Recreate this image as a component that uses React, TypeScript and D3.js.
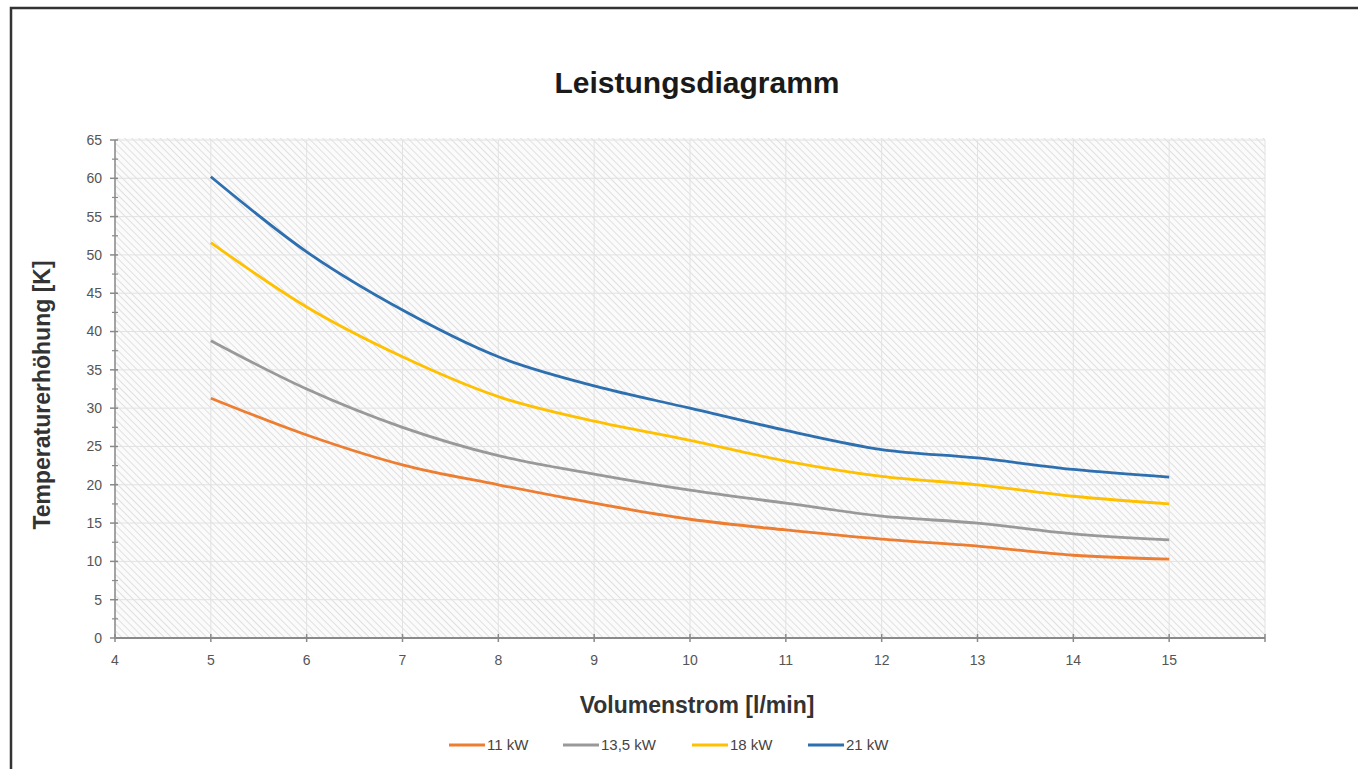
import * as d3 from "d3";

const xValues = [5, 6, 7, 8, 9, 10, 11, 12, 13, 14, 15];
const kw11 = [31.3, 26.5, 22.6, 20.0, 17.6, 15.5, 14.1, 12.9, 12.0, 10.8, 10.3];
const kw135 = [38.8, 32.5, 27.5, 23.8, 21.4, 19.3, 17.6, 15.9, 15.0, 13.6, 12.8];
const kw18 = [51.6, 43.2, 36.7, 31.5, 28.3, 25.8, 23.1, 21.1, 20.0, 18.5, 17.5];
const kw21 = [60.2, 50.4, 42.8, 36.7, 32.9, 30.0, 27.1, 24.6, 23.5, 22.0, 21.0];

const seriesNames = ["11 kW", "13,5 kW", "18 kW", "21 kW"];
const seriesColors = ["#ed7d31", "#999999", "#ffc000", "#2e6fb0"];
const seriesValues = [kw11, kw135, kw18, kw21];

const xTicks = d3.range(4, 17);
const yTicks = d3.range(0, 70, 5);
const yMinorTicks = d3.range(2.5, 65, 5);

const W = 1358;
const H = 769;
const M = { left: 115, right: 93, top: 140, bottom: 131 };

export default function App() {
  const x = d3.scaleLinear().domain([4, 16]).range([M.left, W - M.right]);
  const y = d3.scaleLinear().domain([0, 65]).range([H - M.bottom, M.top]);
  const line = d3
    .line<number>()
    .x((_, i) => x(xValues[i]))
    .y((d) => y(d))
    .curve(d3.curveMonotoneX);

  const axisColor = "#8a8a8a";
  const font = "'Liberation Sans', Arial, sans-serif";
  const legendX = [449, 563, 692, 808];

  return (
    <svg
      width={W}
      height={H}
      style={{ position: "absolute", left: 0, top: 0, background: "#fff" }}
      fontFamily={font}
    >
      <defs>
        <pattern id="hatch" width="5" height="5" patternUnits="userSpaceOnUse" patternTransform="rotate(-45)">
          <rect width="5" height="5" fill="#fbfbfb" />
          <line x1="0" y1="0" x2="0" y2="5" stroke="#d9d9d9" strokeWidth="1.6" />
        </pattern>
      </defs>
      <rect x={11} y={8} width={W + 20} height={H + 20} fill="none" stroke="#333" strokeWidth={2.5} />

      <text x={697} y={93} textAnchor="middle" fontSize={30} fontWeight="bold" fill="#1a1a1a">
        Leistungsdiagramm
      </text>

      <rect x={x(4)} y={y(65) - 2} width={x(16) - x(4)} height={y(0) - y(65) + 2} fill="url(#hatch)" />

      {yTicks.map((t) => (
        <line key={"gy" + t} x1={x(4)} x2={x(16)} y1={y(t)} y2={y(t)} stroke="#e2e2e2" strokeWidth={1} />
      ))}
      {xTicks.map((t) => (
        <line key={"gx" + t} x1={x(t)} x2={x(t)} y1={y(0)} y2={y(65)} stroke="#e2e2e2" strokeWidth={1} />
      ))}

      {/* y axis */}
      <line x1={x(4)} x2={x(4)} y1={y(0)} y2={y(65)} stroke={axisColor} strokeWidth={1.5} />
      {yTicks.map((t) => (
        <g key={"yt" + t}>
          <line x1={x(4) - 5} x2={x(4) + 3} y1={y(t)} y2={y(t)} stroke={axisColor} strokeWidth={1.5} />
          <text x={x(4) - 13} y={y(t)} dy="0.35em" textAnchor="end" fontSize={14} fill="#555">
            {t}
          </text>
        </g>
      ))}
      {yMinorTicks.map((t) => (
        <line key={"ym" + t} x1={x(4) - 3} x2={x(4) + 3} y1={y(t)} y2={y(t)} stroke={axisColor} strokeWidth={1.2} />
      ))}

      {/* x axis */}
      <line x1={x(4)} x2={x(16)} y1={y(0)} y2={y(0)} stroke={axisColor} strokeWidth={2} />
      {xTicks.map((t) => (
        <g key={"xt" + t}>
          <line x1={x(t)} x2={x(t)} y1={y(0) - 4} y2={y(0) + 4} stroke={axisColor} strokeWidth={1.5} />
          {t <= 15 && (
            <text x={x(t)} y={y(0) + 27} textAnchor="middle" fontSize={14} fill="#555">
              {t}
            </text>
          )}
        </g>
      ))}

      {seriesValues.map((vals, i) => (
        <path key={seriesNames[i]} d={line(vals) ?? ""} fill="none" stroke={seriesColors[i]} strokeWidth={2.8} />
      ))}

      <text x={697} y={713} textAnchor="middle" fontSize={23} fontWeight="bold" fill="#333">
        Volumenstrom [l/min]
      </text>
      <text
        transform={`translate(50, ${y(32.5) + 6}) rotate(-90)`}
        textAnchor="middle"
        fontSize={23}
        fontWeight="bold"
        fill="#333"
      >
        Temperaturerhöhung [K]
      </text>

      {seriesNames.map((name, i) => (
        <g key={"lg" + name} transform={`translate(${legendX[i]}, 745)`}>
          <line x1={0} x2={36} y1={0} y2={0} stroke={seriesColors[i]} strokeWidth={3} />
          <text x={38} y={0} dy="0.35em" fontSize={15} fill="#444">
            {name}
          </text>
        </g>
      ))}
    </svg>
  );
}
